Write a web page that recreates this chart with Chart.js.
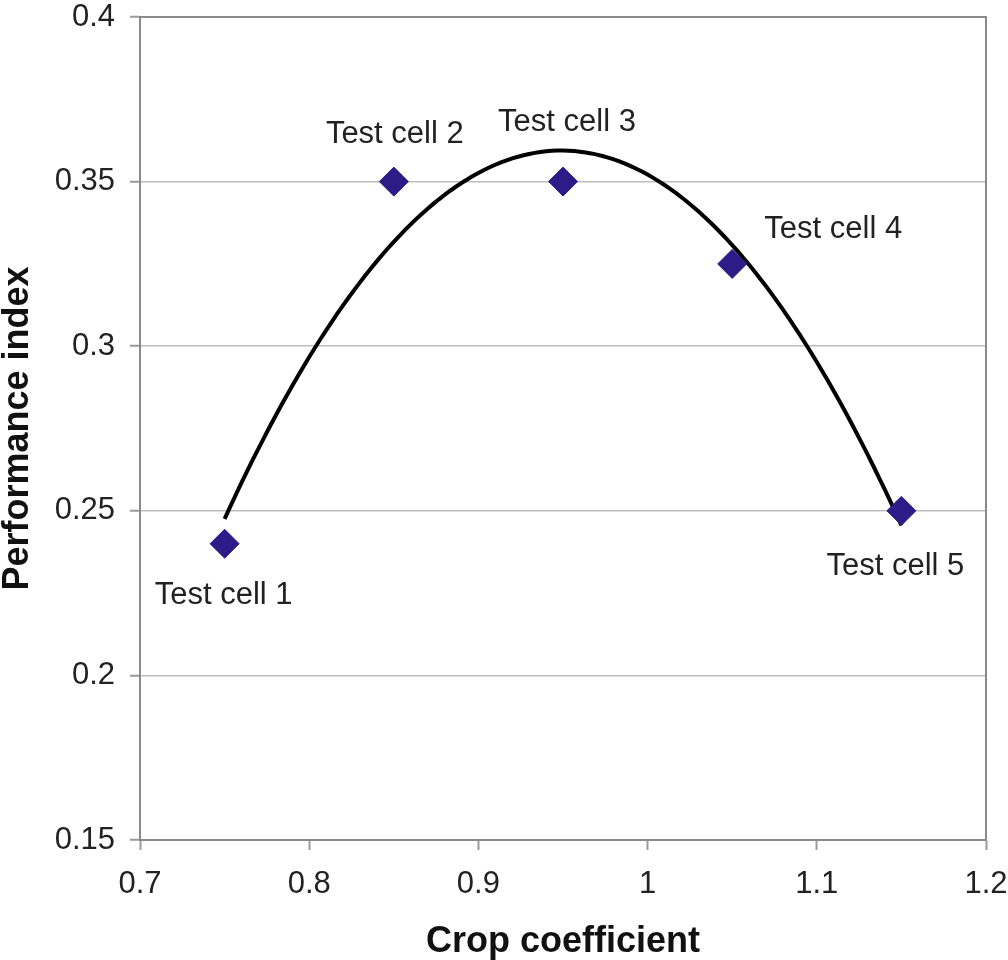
<!DOCTYPE html>
<html>
<head>
<meta charset="utf-8">
<script src="https://cdn.jsdelivr.net/npm/chart.js@4/dist/chart.umd.min.js"></script>
<style>
  html, body { margin: 0; padding: 0; background: #fff; }
  #wrap { width: 1008px; height: 960px; position: relative; }
</style>
</head>
<body>
<div id="wrap"><canvas id="c"></canvas></div>
<script>
// Measured test cells: crop coefficient vs performance index
const cellNames = ['Test cell 1', 'Test cell 2', 'Test cell 3', 'Test cell 4', 'Test cell 5'];
const cropCoefficient = [0.75, 0.85, 0.95, 1.05, 1.15];
const performanceIndex = [0.24, 0.35, 0.35, 0.325, 0.25];

// Axis ranges and tick steps
const xTicks = { min: 0.7, max: 1.2, step: 0.1 };
const yTicks = { min: 0.15, max: 0.4, step: 0.05 };

// Label placement relative to each marker (pixels)
const labelOffsets = [[-1, 52], [1, -47], [4, -59], [101, -34], [-6, 56]];

// Second-order polynomial trendline fitted by least squares
function quadFit(xs, ys) {
  const n = xs.length;
  let s = [0, 0, 0, 0, 0], t = [0, 0, 0];
  for (let i = 0; i < n; i++) {
    let p = 1;
    for (let k = 0; k <= 4; k++) { s[k] += p; if (k <= 2) t[k] += p * ys[i]; p *= xs[i]; }
  }
  const M = [[s[0], s[1], s[2], t[0]], [s[1], s[2], s[3], t[1]], [s[2], s[3], s[4], t[2]]];
  for (let c = 0; c < 3; c++) {
    for (let r = c + 1; r < 3; r++) {
      const f = M[r][c] / M[c][c];
      for (let k = c; k < 4; k++) M[r][k] -= f * M[c][k];
    }
  }
  const coef = [0, 0, 0];
  for (let r = 2; r >= 0; r--) {
    let v = M[r][3];
    for (let k = r + 1; k < 3; k++) v -= M[r][k] * coef[k];
    coef[r] = v / M[r][r];
  }
  return coef;
}
const coef = quadFit(cropCoefficient, performanceIndex);
const xFirst = cropCoefficient[0], xLast = cropCoefficient[cropCoefficient.length - 1];
const trend = [];
for (let i = 0; i <= 120; i++) {
  const x = xFirst + (xLast - xFirst) * i / 120;
  trend.push({ x: x, y: coef[0] + coef[1] * x + coef[2] * x * x });
}

const points = cropCoefficient.map((x, i) => ({ x: x, y: performanceIndex[i] }));

const frame = {
  id: 'frame',
  afterDraw(chart) {
    const { ctx, chartArea: a } = chart;
    ctx.save();
    ctx.strokeStyle = '#8a8a8a';
    ctx.lineWidth = 2;
    ctx.beginPath();
    ctx.moveTo(a.left, a.top);
    ctx.lineTo(a.right, a.top);
    ctx.lineTo(a.right, a.bottom);
    ctx.stroke();
    ctx.restore();
  }
};

const cellLabels = {
  id: 'cellLabels',
  afterDatasetsDraw(chart) {
    const { ctx } = chart;
    const xs = chart.scales.x, ys = chart.scales.y;
    ctx.save();
    ctx.font = '31px "Liberation Sans", Arial, sans-serif';
    ctx.fillStyle = '#222';
    ctx.textAlign = 'center';
    ctx.textBaseline = 'middle';
    cellNames.forEach((name, i) => {
      const px = xs.getPixelForValue(cropCoefficient[i]) + labelOffsets[i][0];
      const py = ys.getPixelForValue(performanceIndex[i]) + labelOffsets[i][1];
      ctx.fillText(name, px, py);
    });
    ctx.restore();
  }
};

new Chart(document.getElementById('c'), {
  type: 'scatter',
  data: {
    datasets: [
      {
        label: 'Trend',
        type: 'line',
        data: trend,
        borderColor: '#000',
        borderWidth: 4,
        pointRadius: 0,
        fill: false,
        tension: 0,
        order: 2
      },
      {
        label: 'Test cells',
        data: points,
        pointStyle: 'rectRot',
        pointRadius: 14.5,
        pointHoverRadius: 14.5,
        backgroundColor: '#2d1b87',
        borderColor: '#2d1b87',
        borderWidth: 1,
        order: 1
      }
    ]
  },
  options: {
    responsive: true,
    maintainAspectRatio: false,
    animation: false,
    layout: { padding: { top: 17, right: 22, left: 0, bottom: 0 } },
    plugins: { legend: { display: false }, tooltip: { enabled: false } },
    scales: {
      x: {
        type: 'linear',
        min: xTicks.min,
        max: xTicks.max,
        afterFit(scale) {
          scale.height = 120;
          scale.paddingLeft = 0;
          scale.paddingRight = 0;
        },
        ticks: {
          stepSize: xTicks.step,
          padding: 16,
          color: '#222',
          font: { family: '"Liberation Sans", Arial, sans-serif', size: 31 },
          maxRotation: 0,
          callback: v => Number(v.toFixed(2)).toString()
        },
        grid: { drawOnChartArea: false, drawTicks: true, tickLength: 10, tickColor: '#9a9a9a', tickWidth: 2 },
        border: { color: '#8a8a8a', width: 2 },
        title: {
          display: true,
          text: 'Crop coefficient',
          color: '#111',
          font: { family: '"Liberation Sans", Arial, sans-serif', size: 36, weight: 'bold', lineHeight: 1 },
          padding: { top: 0, bottom: 0 }
        }
      },
      y: {
        type: 'linear',
        min: yTicks.min,
        max: yTicks.max,
        afterFit(scale) {
          scale.width = 140;
          scale.paddingTop = 0;
          scale.paddingBottom = 0;
        },
        ticks: {
          stepSize: yTicks.step,
          padding: 15,
          color: '#222',
          font: { family: '"Liberation Sans", Arial, sans-serif', size: 31 },
          callback: v => Number(v.toFixed(2)).toString()
        },
        grid: { color: '#bdbdbd', lineWidth: 1.5, drawTicks: true, tickLength: 10, tickColor: '#9a9a9a', tickWidth: 2 },
        border: { color: '#8a8a8a', width: 2 },
        title: {
          display: true,
          text: 'Performance index',
          color: '#111',
          font: { family: '"Liberation Sans", Arial, sans-serif', size: 36, weight: 'bold', lineHeight: 1 },
          padding: { top: 0, bottom: 0 }
        }
      }
    }
  },
  plugins: [frame, cellLabels]
});
</script>
</body>
</html>
